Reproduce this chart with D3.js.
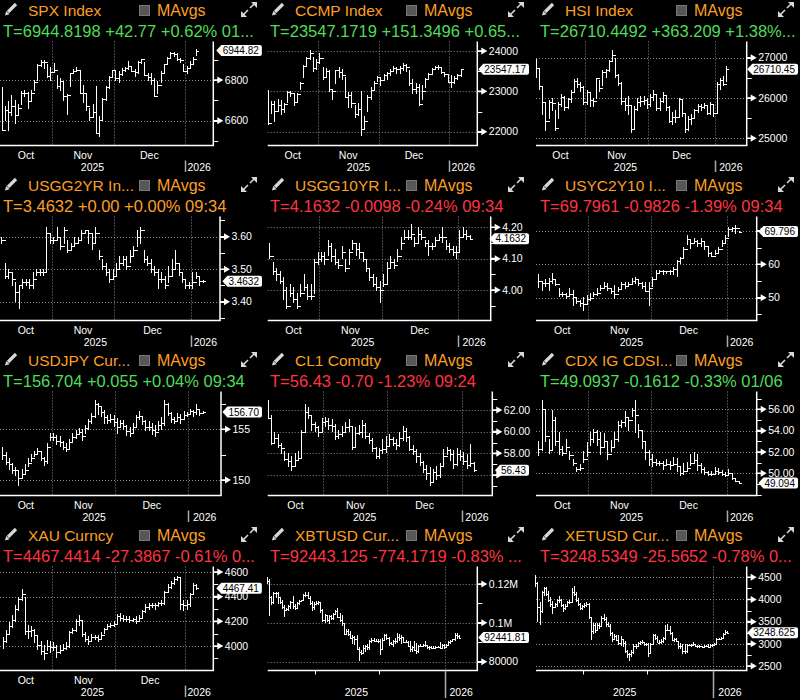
<!DOCTYPE html>
<html>
<head>
<meta charset="utf-8">
<script src="https://cdn.jsdelivr.net/npm/d3@7"></script>
<style>
  body { margin: 0; background: #000; }
  svg text { font-family: "Liberation Sans", Arial, sans-serif; }
</style>
</head>
<body>
<svg id="chart" width="800" height="700"></svg>
<script>
// ---------- data (daily bars, Oct .. Jan) ----------
var spxClose = [6552,6654,6644,6671,6629,6664,6735,6735,6699,6738,6791,6875,6890,6890,6822,6840,
  6851,6771,6796,6720,6728,6832,6846,6850,6737,6734,6672,6617,6642,6538,6603,6705,6766,6813,6849,
  6812,6829,6850,6857,6870,6846,6840,6887,6901,6827,6816,6800,6721,6775,6834,6878,6909,6932,6930,6905,6896,6845,
  6858,6880,6902,6944.82];
var spxHigh = [6764,6670,6697,6724,6700,6682,6745,6753,6740,6750,6800,6880,6900,6897,6880,6865,
  6885,6825,6810,6790,6730,6835,6855,6865,6845,6775,6735,6660,6680,6771,6625,6712,6770,6820,6851,
  6850,6845,6860,6866,6895,6868,6855,6895,6905,6890,6835,6835,6810,6795,6845,6880,6912,6936,6940,6932,6910,6880,
  6870,6895,6915,6950];
var spxLow = [6550,6600,6552,6625,6585,6625,6680,6720,6660,6700,6750,6800,6865,6855,6810,6800,
  6840,6760,6750,6700,6630,6770,6830,6840,6735,6690,6650,6600,6615,6535,6520,6600,6700,6760,6810,
  6800,6790,6820,6840,6850,6840,6815,6830,6880,6820,6800,6780,6720,6735,6790,6830,6875,6910,6915,6895,6885,6840,
  6830,6855,6880,6920];

var ccmpClose = [22204,22694,22521,22670,22562,22680,22991,22954,22740,22941,23205,23637,23827,23958,23581,23725,
  23834,23349,23500,23054,23004,23527,23468,23406,22871,22900,22708,22432,22564,22078,22273,22872,23025,23214,23366,
  23276,23413,23454,23505,23578,23545,23576,23654,23593,23195,23057,23111,22693,23006,23307,23428,23561,23613,23593,23474,23419,23242,
  23236,23330,23396,23547.17];
var ccmpHigh = [23040,22750,22750,22820,22780,22720,23010,23020,22960,22970,23240,23650,23850,24019,23850,23790,
  23960,23600,23580,23520,23050,23540,23600,23550,23360,22980,22980,22650,22700,23000,22400,22900,23100,23250,23380,
  23340,23440,23470,23550,23640,23600,23620,23700,23680,23540,23300,23200,23180,23150,23320,23460,23580,23630,23650,23600,23490,23430,
  23400,23380,23420,23560];
var ccmpLow = [22170,22450,22250,22500,22420,22480,22720,22880,22650,22760,23050,23350,23650,23800,23500,23550,
  23700,23300,23350,23000,22800,23200,23350,23300,22850,22600,22600,22350,22400,21900,22050,22500,22800,23050,23250,
  23150,23280,23300,23400,23500,23450,23450,23520,23480,23150,22950,22950,22650,22800,23100,23300,23450,23550,23550,23430,23380,23220,
  23100,23200,23300,23380];

var hsiClose = [26752,26290,25889,25441,25910,25888,25247,25858,26027,25782,25968,26160,26434,26346,26282,25907,
  26158,25952,25935,26485,26241,26649,26696,26922,27073,26572,26384,25930,25830,25835,25220,25716,25894,25928,25945,25858,
  26033,26095,25760,25935,26085,25765,25434,25540,25530,25976,25628,25235,25468,25498,25690,25801,25774,25818,25635,25854,25631,
  26338,26458,26347,26710.45];
var hsiHigh = [26980,26750,26300,25900,25950,26000,25700,25900,26100,26050,26000,26200,26480,26500,26400,26300,
  26200,26150,26000,26500,26450,26700,26720,26950,27200,27000,26600,26400,26000,26050,25800,25800,26000,26050,26050,26000,
  26100,26200,26100,26000,26150,26050,25800,25650,25700,26000,25950,25600,25550,25600,25720,25850,25850,25880,25800,25900,25850,
  26400,26500,26550,26800];
var hsiLow = [26500,26200,25600,25200,25500,25700,25200,25500,25800,25700,25750,25900,26150,26250,26150,25850,
  25850,25800,25800,26000,26150,26300,26500,26650,26900,26500,26300,25850,25700,25600,25150,25250,25700,25800,25850,25750,
  25800,25950,25700,25700,25900,25700,25400,25350,25400,25550,25550,25150,25200,25350,25500,25650,25700,25750,25600,25600,25550,
  25650,26200,26300,26400];

var us2Close = [3.59,3.48,3.49,3.47,3.43,3.45,3.46,3.46,3.45,3.47,3.49,3.49,3.49,3.61,3.59,
  3.59,3.60,3.57,3.62,3.56,3.57,3.58,3.59,3.61,3.62,3.61,3.58,3.61,3.54,3.51,3.49,3.47,3.48,
  3.50,3.52,3.53,3.51,3.54,3.56,3.60,3.62,3.53,3.52,3.50,3.49,3.47,3.47,3.45,3.48,3.50,3.52,3.49,3.47,3.45,3.45,
  3.46,3.48,3.463,3.4632];
var us2High = [3.60,3.52,3.50,3.49,3.46,3.45,3.47,3.47,3.47,3.49,3.50,3.50,3.50,3.63,3.61,
  3.60,3.63,3.60,3.63,3.59,3.58,3.60,3.60,3.62,3.62,3.62,3.61,3.63,3.56,3.53,3.52,3.50,3.50,
  3.52,3.54,3.54,3.54,3.56,3.57,3.62,3.63,3.56,3.54,3.53,3.51,3.50,3.49,3.48,3.51,3.53,3.56,3.52,3.49,3.47,3.46,
  3.49,3.49,3.48,3.466];
var us2Low = [3.58,3.47,3.47,3.45,3.40,3.38,3.44,3.45,3.44,3.44,3.48,3.48,3.48,3.49,3.58,
  3.58,3.59,3.56,3.58,3.55,3.56,3.57,3.58,3.59,3.61,3.58,3.56,3.58,3.53,3.50,3.48,3.46,3.47,
  3.48,3.50,3.51,3.50,3.52,3.54,3.57,3.58,3.52,3.51,3.49,3.48,3.44,3.46,3.44,3.46,3.48,3.50,3.48,3.46,3.44,3.44,
  3.44,3.47,3.45,3.46];

var us10Close = [4.11,4.06,4.05,4.03,4.00,3.95,3.99,3.97,3.95,3.99,4.01,3.98,3.98,4.09,4.10,
  4.11,4.10,4.14,4.11,4.09,4.08,4.12,4.07,4.12,4.15,4.13,4.12,4.10,4.07,4.04,4.02,4.01,4.00,
  4.02,4.07,4.09,4.08,4.11,4.15,4.17,4.17,4.18,4.15,4.18,4.17,4.15,4.14,4.14,4.16,4.17,4.17,4.14,4.13,4.12,4.12,
  4.17,4.18,4.173,4.1632];
var us10High = [4.15,4.09,4.07,4.06,4.04,4.01,4.02,4.01,3.99,4.02,4.05,4.02,4.02,4.10,4.12,
  4.12,4.12,4.16,4.15,4.13,4.10,4.14,4.10,4.13,4.16,4.15,4.15,4.12,4.10,4.07,4.05,4.04,4.03,
  4.05,4.09,4.11,4.10,4.13,4.17,4.19,4.19,4.21,4.17,4.20,4.19,4.16,4.16,4.15,4.17,4.18,4.20,4.16,4.15,4.14,4.14,
  4.19,4.20,4.19,4.175];
var us10Low = [4.10,4.05,4.03,4.02,3.97,3.94,3.98,3.96,3.94,3.98,4.00,3.97,3.97,3.99,4.08,
  4.09,4.08,4.11,4.09,4.08,4.07,4.10,4.06,4.08,4.13,4.11,4.10,4.09,4.06,4.03,4.01,4.00,3.96,
  4.01,4.02,4.07,4.07,4.09,4.13,4.16,4.16,4.16,4.14,4.15,4.16,4.14,4.11,4.13,4.14,4.16,4.15,4.13,4.12,4.11,4.10,
  4.12,4.17,4.16,4.16];

var curveClose = [55,54.5,54.5,55,55.7,54,51,51,50.5,51,50.3,49,48.5,48,49.5,
  50,51,51.5,53,53.5,53,52,51,52.5,54,53.5,54,55,55.5,54.5,53.5,52,53,
  55.5,57.5,58,58,58,58,58.5,61,62,64.5,67.5,66.5,67,66.5,67,65.5,63.5,62.5,63.5,64.5,66.5,68,
  70.5,71,70.78,69.796];
var curveHigh = [57,55,55.5,56,57.3,55.5,52.8,51.8,51.3,52.8,52.3,50,49.3,50.3,50.8,
  51.3,51.8,52.8,53.8,54.8,54.3,52.8,53.8,53.3,54.8,54.8,54.8,55.8,56.3,55.3,54.8,54.8,54.8,
  56.3,58.3,58.3,58.3,57.8,58.3,59.3,61.3,62.3,65.3,68.8,67.3,67.8,67.3,67.8,66.8,65.3,63.8,64.3,65.3,67.3,68.8,
  71.3,71.3,71.8,70];
var curveLow = [53,52.3,53.3,52.3,54.3,53.8,50.3,50.3,49.8,50.8,47.8,48.3,47.3,46.3,48.3,
  49.3,50.3,50.8,52.3,52.8,52.3,51.3,49.8,51.8,52.8,52.8,53.3,54.3,54.3,53.8,52.8,51.8,47.8,
  53.3,55.8,57.3,56.8,57.3,56.8,56.8,56.3,60.3,61.8,65.8,64.8,66.3,65.3,65.3,64.3,62.3,62.3,62.8,63.3,65.3,66.3,
  68.3,69.8,69.3,69.6];

var jpyClose = [152.5,151.8,151.6,151.0,151.0,150.2,150.6,151.0,151.7,152.2,152.6,152.9,152.2,151.9,153.3,154.2,
  154.2,153.8,153.7,153.3,153.1,153.7,154.2,154.5,154.7,154.3,155.1,155.8,156.3,157.5,157.3,156.7,156.2,155.9,156.0,155.7,
  155.2,155.6,155.3,154.8,154.6,155.2,156.2,156.3,155.8,155.2,155.2,154.9,154.7,155.4,155.6,157.5,156.6,156.0,155.8,156.2,156.0,156.4,156.5,
  156.8,156.7,157.0,156.65,156.704];
var jpyHigh = [153.3,152.8,152.2,151.7,151.3,150.9,151.1,151.6,152.2,152.6,152.9,153.2,152.8,152.3,153.6,154.6,
  154.6,154.4,154.3,153.8,153.6,154.0,154.6,154.9,155.1,155.0,155.4,156.0,156.6,157.9,157.6,157.3,156.9,156.4,156.5,156.4,
  156.1,155.9,155.9,155.4,155.2,155.6,156.4,156.8,156.3,155.9,155.8,155.6,155.4,155.8,156.2,157.9,157.6,156.7,156.2,156.6,156.5,156.8,156.7,
  157.0,156.9,157.5,157.0,156.8];
var jpyLow = [152.0,151.5,151.0,150.6,150.4,149.5,150.2,150.6,151.3,151.8,152.3,152.5,151.9,151.4,151.6,153.9,
  153.9,153.5,153.3,153.0,152.8,153.1,153.7,154.1,154.5,153.9,154.6,155.0,155.6,156.2,156.5,156.3,155.6,155.6,155.7,155.3,
  154.6,155.2,155.0,154.4,154.3,154.6,155.2,156.0,155.5,154.9,154.9,154.5,154.3,154.9,155.0,155.4,156.4,155.7,155.6,155.9,155.6,156.1,156.3,
  156.5,156.3,156.5,156.4,156.6];

var cl1Close = [61.3,59.0,59.4,58.8,58.5,57.5,57.3,56.8,57.4,57.6,60.0,61.8,61.5,60.7,60.4,60.0,60.9,
  61.0,60.6,60.5,59.6,59.8,60.0,60.4,60.5,58.6,59.9,60.0,60.6,59.6,59.2,58.5,57.8,58.3,58.4,58.7,
  59.3,59.0,58.8,59.4,60.1,59.5,58.4,58.2,57.8,57.2,56.6,56.2,55.4,56.3,56.0,56.8,57.8,58.3,57.9,57.0,57.9,57.8,
  57.3,56.9,57.13,56.43];
var cl1High = [62.9,61.5,60.0,59.8,59.0,58.2,58.0,57.8,58.0,58.2,60.2,62.6,62.3,61.5,60.9,60.5,61.3,
  61.4,61.3,61.2,60.7,60.2,60.5,60.9,61.2,60.5,60.4,60.6,61.1,60.8,59.9,59.4,58.6,58.5,59.3,59.6,
  59.8,59.5,59.3,60.0,60.5,60.3,59.6,58.8,58.4,58.0,57.3,56.9,56.7,56.6,56.8,57.1,58.4,58.6,58.4,58.3,58.5,58.3,
  58.1,57.9,58.9,57.2];
var cl1Low = [61.2,58.8,58.9,58.5,58.0,57.3,56.8,56.4,56.9,57.3,57.6,60.0,61.2,60.1,60.0,59.6,60.0,
  60.5,60.2,60.0,59.3,59.4,59.6,59.9,60.0,58.4,58.6,59.7,59.5,59.4,58.9,58.2,57.5,57.5,58.0,58.1,
  58.6,58.7,58.4,58.6,59.2,59.1,58.3,57.9,57.2,56.9,56.2,55.6,55.0,55.4,55.6,55.8,56.8,57.9,57.3,56.6,56.9,57.3,
  57.0,56.6,56.8,56.3];

var cdxClose = [52.3,56.0,53.5,52.2,55.0,53.0,52.3,51.9,52.5,51.7,51.0,50.4,50.5,51.3,52.0,
  53.2,53.9,53.2,52.5,53.0,51.8,52.5,53.2,54.5,54.8,55.3,55.0,55.9,55.5,54.1,53.0,52.0,51.3,
  51.1,51.0,51.0,50.8,50.9,50.8,50.9,50.7,50.0,50.2,50.5,51.0,51.2,50.8,50.4,50.1,49.9,49.9,50.2,50.1,49.9,49.8,
  50.0,49.6,49.25,49.094];
var cdxHigh = [53.0,56.9,56.0,53.2,55.9,55.3,53.9,52.6,53.2,52.1,51.3,50.6,50.9,52.1,52.9,
  53.9,54.2,54.1,53.9,53.8,52.9,53.1,53.9,54.9,55.0,55.8,55.3,56.1,56.9,54.6,54.1,52.9,52.2,
  51.8,51.3,51.2,51.2,51.3,51.2,51.5,51.4,50.6,51.0,51.1,51.8,52.0,51.8,51.0,50.6,50.2,50.2,50.6,50.5,50.3,50.1,
  50.4,50.0,49.6,49.3];
var cdxLow = [51.7,52.1,53.0,51.9,52.1,52.6,51.8,51.7,52.0,51.3,50.7,50.2,50.3,51.0,51.6,
  52.6,52.9,52.6,51.8,52.5,51.3,52.0,52.5,53.0,54.3,54.4,54.0,55.3,53.8,53.4,52.3,51.3,50.7,
  50.6,50.7,50.7,50.4,50.7,50.4,50.7,50.2,49.8,49.9,50.2,50.7,50.9,50.3,50.1,49.9,49.8,49.8,49.9,49.9,49.8,49.7,
  49.8,49.4,49.2,49.0];

var xauClose = [4040,4100,4160,4210,4300,4380,4420,4120,4120,4130,4090,4010,3960,3940,4000,3990,
  3990,3950,3970,3985,4000,4110,4130,4200,4210,4100,4060,4040,4070,4070,4060,4090,4140,4160,4170,4180,
  4240,4230,4220,4220,4210,4215,4200,4230,4280,4320,4330,4335,4330,4345,4350,4440,4480,4510,4540,4560,4340,4330,
  4340,4420,4494.83,4467.41];
var xauHigh = [4070,4130,4195,4250,4330,4400,4460,4400,4170,4160,4140,4090,4040,4010,4050,4040,
  4030,4010,4010,4020,4030,4120,4150,4220,4250,4210,4110,4080,4100,4090,4090,4110,4150,4175,4190,4200,
  4260,4270,4250,4240,4240,4230,4240,4250,4290,4340,4350,4350,4350,4360,4370,4450,4500,4530,4560,4570,4560,4370,
  4370,4430,4510,4500];
var xauLow = [3980,4030,4090,4150,4200,4290,4370,4090,4060,4080,4030,3970,3930,3890,3960,3950,
  3960,3910,3940,3960,3970,3990,4100,4120,4170,4080,4040,4010,4040,4050,4040,4060,4100,4140,4150,4160,
  4180,4210,4200,4200,4190,4200,4180,4195,4220,4270,4300,4310,4300,4320,4330,4340,4430,4470,4500,4530,4300,4290,
  4300,4320,4420,4460];

var xbtClose = [121700,113200,110700,115200,115300,113100,110800,108200,106500,107200,108700,110600,108500,107600,110100,111000,111600,114500,114100,112900,110100,108300,109600,
  110100,110600,106500,101500,103900,101300,103400,102300,104700,106000,103000,101600,99700,94400,95600,94200,92200,92900,91500,86600,85100,84700,86800,88300,87400,90500,91300,90900,90800,90400,
  86300,91300,93500,92100,89400,89300,90400,90600,92700,92000,92500,90300,90300,88200,86400,87800,86200,85500,88100,88300,88600,88500,87500,87600,87300,87300,87800,87800,87200,88400,87500,
  88700,89900,90600,91500,93900,93200,92441.81];
var xbtHigh = [123800,122500,113800,115700,116000,115900,113500,111600,109300,107700,109300,111500,114000,109900,110700,112000,111900,115000,116100,116000,113600,111500,110600,
  111200,111200,110900,107300,104600,104200,103900,104100,105000,106600,107400,105300,104000,99800,96800,96600,96000,93800,93200,93800,87500,85800,88600,88800,89200,91000,92000,92000,91500,91500,
  91800,92300,94200,94100,92500,90200,91200,92200,94600,94300,93500,92800,91000,90700,90400,88200,90400,89500,88800,89000,89100,90600,88700,88000,88000,87900,88000,88200,90000,89200,89000,
  88900,90900,91000,91700,94800,94600,93600];
var xbtLow = [120500,104000,109500,110000,113000,110000,110200,107500,103500,106300,106600,107500,107500,106800,107500,109700,110800,111400,113800,112400,109700,106300,107000,
  109400,109600,105300,100800,100300,100500,99600,101500,101500,104300,102500,100800,98500,94000,94100,93600,91800,89300,88600,86100,80600,83600,84500,85500,86300,86400,90100,90300,90200,90000,
  83800,86200,91000,91200,88100,88900,87700,89500,89900,91000,89400,89700,89800,87600,85100,85300,85600,84400,84500,87600,87900,87800,86600,86400,86600,86800,86900,87200,86700,86900,87000,
  87300,88200,89600,90400,91000,91800,91900];

var xetClose = [4370,3840,3750,4160,4250,4130,3990,3890,3830,3890,3990,3980,3880,3810,3860,3935,3950,4160,4120,3980,3900,3810,3850,
  3880,3900,3600,3290,3420,3310,3430,3400,3580,3560,3440,3410,3240,3120,3180,3090,3010,3100,3020,2840,2770,2760,2810,2960,2960,3020,3030,3030,2990,2990,
  2800,2990,3190,3140,3020,3040,3060,3130,3320,3320,3250,3080,3110,3060,2960,2950,2830,2830,2980,2980,2970,3000,2960,2950,2940,2930,2950,2950,2935,2970,2970,
  3000,3120,3110,3140,3230,3274,3248.535];
var xetHigh = [4560,4390,3950,4190,4290,4290,4180,4060,3960,3920,4020,4080,4010,3900,3900,3960,3980,4260,4300,4160,4030,3930,3880,
  3920,3950,3920,3610,3480,3460,3470,3480,3630,3680,3600,3500,3450,3270,3230,3210,3190,3180,3110,3060,2850,2800,2850,2990,3000,3040,3060,3080,3030,3010,
  3010,3010,3220,3230,3170,3080,3100,3160,3430,3450,3400,3260,3130,3130,3060,3010,3000,2990,3000,3000,3000,3040,3000,2980,2970,2960,2970,2980,2990,2990,3000,
  3020,3130,3140,3150,3250,3310,3280];
var xetLow = [4300,3500,3440,3700,4100,4080,3950,3850,3680,3820,3850,3940,3850,3720,3780,3840,3900,3940,4100,3950,3860,3770,3780,
  3810,3850,3560,3100,3230,3260,3290,3350,3390,3520,3400,3380,3180,3060,3090,3080,2990,2960,2950,2810,2700,2620,2720,2790,2890,2940,2990,3000,2970,2970,
  2720,2780,2980,3100,3020,3000,3000,3040,3100,3310,3220,3070,3060,3050,2900,2900,2790,2780,2810,2960,2950,2960,2940,2920,2920,2910,2920,2940,2920,2920,2950,
  2960,2990,3090,3100,3130,3210,3235];

// bars per month: Oct, Nov, Dec, Jan
var monthsUS = [16, 19, 22, 4];
var monthsHK = [16, 20, 21, 4];
var monthsBond = [15, 18, 22, 4];
var monthsFX = [16, 20, 23, 5];
var monthsCL = [17, 19, 22, 4];
var monthsGold = [16, 20, 22, 4];
var monthsCrypto = [23, 30, 31, 7];

var monthNames = ["Oct", "Nov", "Dec"];
var yearNames = ["2025", "2026"];

// right axis labels
var spxTicks = [6600, 6800], spxTickText = ["6600", "6800"];
var ccmpTicks = [22000, 23000, 24000], ccmpTickText = ["22000", "23000", "24000"];
var hsiTicks = [25000, 26000, 27000], hsiTickText = ["25000", "26000", "27000"];
var us2Ticks = [3.4, 3.5, 3.6], us2TickText = ["3.40", "3.50", "3.60"];
var us10Ticks = [4.0, 4.1, 4.2], us10TickText = ["4.00", "4.10", "4.20"];
var curveTicks = [50, 60, 70], curveTickText = ["50", "60", "70"];
var jpyTicks = [150, 155], jpyTickText = ["150", "155"];
var cl1Ticks = [56, 58, 60, 62], cl1TickText = ["56.00", "58.00", "60.00", "62.00"];
var cdxTicks = [50, 52, 54, 56], cdxTickText = ["50.00", "52.00", "54.00", "56.00"];
var xauTicks = [4000, 4200, 4400, 4600], xauTickText = ["4000", "4200", "4400", "4600"];
var xbtTicks = [80000, 100000, 120000], xbtTickText = ["80000", "0.1M", "0.12M"];
var xetTicks = [2500, 3000, 3500, 4000, 4500], xetTickText = ["2500", "3000", "3500", "4000", "4500"];

var ORANGE = "#fb9f24";
var GREEN = "#4fdc58";
var RED = "#ff3440";
var GRID = "#8a8a8a";
var ROW_H = 175;
var colX = [0, 267, 537];
var boxMaxR = [262, 529, 798];

var panels = [
  {row: 0, col: 0, title: "SPX Index", quote: "T=6944.8198 +42.77 +0.62% 01...", qc: GREEN,
   close: spxClose, high: spxHigh, low: spxLow, months: monthsUS, plotL: 0, axisX: 213.3, xNov: 52, xJan: 185,
   yA: [6800, 80, 6600, 120.7], minor: 100, ticks: spxTicks, tickText: spxTickText, last: "6944.82"},
  {row: 0, col: 1, title: "CCMP Index", quote: "T=23547.1719 +151.3496 +0.65...", qc: GREEN,
   close: ccmpClose, high: ccmpHigh, low: ccmpLow, months: monthsUS, plotL: 267.7, axisX: 477.3, xNov: 317.7, xJan: 449.3,
   yA: [24000, 51, 22000, 131.7], minor: 500, ticks: ccmpTicks, tickText: ccmpTickText, last: "23547.17"},
  {row: 0, col: 2, title: "HSI Index", quote: "T=26710.4492 +363.209 +1.38%...", qc: GREEN,
   close: hsiClose, high: hsiHigh, low: hsiLow, months: monthsHK, plotL: 536, axisX: 746.7, xNov: 585, xJan: 715,
   yA: [27000, 57.7, 25000, 138.3], minor: 500, ticks: hsiTicks, tickText: hsiTickText, last: "26710.45"},
  {row: 1, col: 0, title: "USGG2YR In...", quote: "T=3.4632 +0.00 +0.00% 09:34", qc: ORANGE,
   close: us2Close, high: us2High, low: us2Low, months: monthsBond, plotL: 0, axisX: 220, xNov: 51.7, xJan: 190.7,
   yA: [3.6, 61.7, 3.4, 126.7], minor: 0.05, ticks: us2Ticks, tickText: us2TickText, last: "3.4632"},
  {row: 1, col: 1, title: "USGG10YR I...", quote: "T=4.1632 -0.0098 -0.24% 09:34", qc: RED,
   close: us10Close, high: us10High, low: us10Low, months: monthsBond, plotL: 267.7, axisX: 490.7, xNov: 319.3, xJan: 457.7,
   yA: [4.2, 52.3, 4.0, 115], minor: 0.05, ticks: us10Ticks, tickText: us10TickText, last: "4.1632"},
  {row: 1, col: 2, title: "USYC2Y10 I...", quote: "T=69.7961 -0.9826 -1.39% 09:34", qc: RED,
   close: curveClose, high: curveHigh, low: curveLow, months: monthsBond, plotL: 536, axisX: 756.7, xNov: 588.3, xJan: 726.7,
   yA: [60, 89.3, 50, 122.7], minor: 5, ticks: curveTicks, tickText: curveTickText, last: "69.796"},
  {row: 2, col: 0, title: "USDJPY Cur...", quote: "T=156.704 +0.055 +0.04% 09:34", qc: GREEN,
   close: jpyClose, high: jpyHigh, low: jpyLow, months: monthsFX, plotL: 0, axisX: 221, xNov: 51.7, xJan: 188.3,
   yA: [155, 79.3, 150, 130], minor: 2.5, ticks: jpyTicks, tickText: jpyTickText, last: "156.70"},
  {row: 2, col: 1, title: "CL1 Comdty", quote: "T=56.43 -0.70 -1.23% 09:24", qc: RED,
   close: cl1Close, high: cl1High, low: cl1Low, months: monthsCL, plotL: 267.7, axisX: 492.3, xNov: 323.3, xJan: 461.7,
   yA: [62, 60, 56, 125], minor: 1, ticks: cl1Ticks, tickText: cl1TickText, last: "56.43"},
  {row: 2, col: 2, title: "CDX IG CDSI...", quote: "T=49.0937 -0.1612 -0.33% 01/06", qc: GREEN,
   close: cdxClose, high: cdxHigh, low: cdxLow, months: monthsBond, plotL: 536, axisX: 756.7, xNov: 588.3, xJan: 726.7,
   yA: [56, 59.3, 50, 123.3], minor: 1, ticks: cdxTicks, tickText: cdxTickText, last: "49.094"},
  {row: 3, col: 0, title: "XAU Curncy", quote: "T=4467.4414 -27.3867 -0.61% 0...", qc: RED,
   close: xauClose, high: xauHigh, low: xauLow, months: monthsGold, plotL: 0, axisX: 213.3, xNov: 51.7, xJan: 185,
   yA: [4600, 47, 4000, 121], minor: 100, ticks: xauTicks, tickText: xauTickText, last: "4467.41"},
  {row: 3, col: 1, title: "XBTUSD Cur...", quote: "T=92443.125 -774.1719 -0.83% ...", qc: RED,
   close: xbtClose, high: xbtHigh, low: xbtLow, months: monthsCrypto, plotL: 267.7, axisX: 477.3, xNov: 315, xJan: 445,
   yA: [120000, 59, 80000, 136.7], minor: 10000, ticks: xbtTicks, tickText: xbtTickText, last: "92441.81", daily: true},
  {row: 3, col: 2, title: "XETUSD Cur...", quote: "T=3248.5349 -25.5652 -0.78% 0...", qc: RED,
   close: xetClose, high: xetHigh, low: xetLow, months: monthsCrypto, plotL: 536, axisX: 746.7, xNov: 583.3, xJan: 713.3,
   yA: [4500, 52.3, 2500, 141], minor: 250, ticks: xetTicks, tickText: xetTickText, last: "3248.625", daily: true}
];

var svg = d3.select("#chart");
svg.append("rect").attr("width", 800).attr("height", 700).attr("fill", "#000");

// draw every panel's plot first, then all axis labels and value boxes on top
var layers = { plot: svg.append("g"), labels: svg.append("g") };
panels.forEach(drawPanel);

function drawHeader(g, ox, top, p) {
  // pencil
  g.append("line").attr("x1", ox + 8).attr("y1", top + 12).attr("x2", ox + 16).attr("y2", top + 4)
    .attr("stroke", "#d8d8d8").attr("stroke-width", 3.2);
  g.append("path").attr("d", "M" + (ox + 5) + "," + (top + 15.5) + "l1.2,-4.6l3.4,3.4z").attr("fill", "#d8d8d8");

  g.append("text").attr("x", ox + 28).attr("y", top + 16).attr("fill", ORANGE)
    .attr("font-size", 15.5).text(p.title);

  g.append("rect").attr("x", ox + 139.5).attr("y", top + 5.5).attr("width", 10).attr("height", 10)
    .attr("fill", "#575757").attr("stroke", "#777");
  g.append("text").attr("x", ox + 157).attr("y", top + 16).attr("fill", ORANGE)
    .attr("font-size", 16).text("MAvgs");

  // expand icon
  var ex = ox + 241, ey = top + 2;
  g.append("line").attr("x1", ex + 9).attr("y1", ey + 6).attr("x2", ex + 13.5).attr("y2", ey + 1.5)
    .attr("stroke", "#d8d8d8").attr("stroke-width", 1.6);
  g.append("path").attr("d", "M" + (ex + 16) + "," + ey + "v6l-6,-6z").attr("fill", "#d8d8d8");
  g.append("line").attr("x1", ex + 2.5).attr("y1", ey + 12.5).attr("x2", ex + 7).attr("y2", ey + 8)
    .attr("stroke", "#d8d8d8").attr("stroke-width", 1.6);
  g.append("path").attr("d", "M" + ex + "," + (ey + 15) + "v-6l6,6z").attr("fill", "#d8d8d8");

  g.append("text").attr("x", ox + 3).attr("y", top + 36.5).attr("fill", p.qc)
    .attr("font-size", 16.5).text(p.quote);
}

function drawPanel(p) {
  var top = p.row * ROW_H, ox = colX[p.col];
  var g = layers.plot.append("g");
  var lg = layers.labels.append("g");
  var plotTop = top + 41.5, plotBot = top + 145.5;
  var m = p.months;
  var iNov = m[0] - 0.5, iDec = m[0] + m[1] - 0.5, iJan = m[0] + m[1] + m[2] - 0.5;

  var x = d3.scaleLinear().domain([iNov, iJan]).range([p.xNov, p.xJan]);
  var y = d3.scaleLinear().domain([p.yA[0], p.yA[2]]).range([top + p.yA[1], top + p.yA[3]]);

  drawHeader(g, ox, top, p);

  // horizontal grid at labelled ticks
  g.selectAll(null).data(p.ticks).enter().append("line")
    .attr("x1", p.plotL).attr("x2", p.axisX)
    .attr("y1", function(d) { return Math.round(y(d)) + 0.5; })
    .attr("y2", function(d) { return Math.round(y(d)) + 0.5; })
    .attr("stroke", GRID).attr("stroke-dasharray", "1,2");

  // vertical month lines
  var vlines = p.daily ? [iJan] : [iNov, iDec, iJan];
  g.selectAll(null).data(vlines).enter().append("line")
    .attr("x1", function(d) { return Math.round(x(d)) + 0.5; })
    .attr("x2", function(d) { return Math.round(x(d)) + 0.5; })
    .attr("y1", plotTop).attr("y2", plotBot)
    .attr("stroke", GRID).attr("stroke-dasharray", "1,2");

  // OHLC bars (open = previous close)
  var bars = g.append("g").attr("stroke", "#fff").attr("stroke-width", 1).attr("shape-rendering", "crispEdges");
  var tick = p.daily ? 1 : 1.5;
  p.close.forEach(function(c, i) {
    var xi = Math.round(x(i)) + 0.5;
    var hi = Math.max(p.high[i], c), lo = Math.min(p.low[i], c);
    bars.append("line").attr("x1", xi).attr("x2", xi).attr("y1", y(hi)).attr("y2", y(lo) + 0.5);
    if (i > 0) {
      var yo = Math.round(y(p.close[i - 1])) + 0.5;
      bars.append("line").attr("x1", xi - tick - 0.5).attr("x2", xi).attr("y1", yo).attr("y2", yo);
    }
    var yc = Math.round(y(c)) + 0.5;
    bars.append("line").attr("x1", xi).attr("x2", xi + tick + 0.5).attr("y1", yc).attr("y2", yc);
  });

  // axes
  g.append("line").attr("x1", p.plotL).attr("x2", p.axisX + 0.75).attr("y1", plotBot).attr("y2", plotBot)
    .attr("stroke", "#fff").attr("stroke-width", 1.5);
  g.append("line").attr("x1", p.axisX).attr("x2", p.axisX).attr("y1", plotTop).attr("y2", plotBot)
    .attr("stroke", "#fff").attr("stroke-width", 1.5);

  // minor ticks on right axis
  var dom = y.invert(plotBot), dTop = y.invert(plotTop);
  var minors = d3.range(Math.ceil(dom / p.minor - 1e-6) * p.minor, dTop + 1e-9, p.minor);
  g.selectAll(null).data(minors).enter().append("line")
    .attr("x1", p.axisX).attr("x2", p.axisX + 5)
    .attr("y1", function(d) { return Math.round(y(d)) + 0.5; })
    .attr("y2", function(d) { return Math.round(y(d)) + 0.5; })
    .attr("stroke", "#fff");

  var vy = y(p.close[p.close.length - 1]);

  // labelled ticks with arrow (labels sitting right under the value box are hidden by it)
  var ax = p.axisX;
  lg.selectAll(null).data(p.ticks).enter().append("path")
    .attr("d", function(t) {
      var cy = y(t);
      return "M" + ax + "," + (cy - 0.8) + "H" + (ax + 4) + "V" + (cy - 3.5) + "L" + (ax + 10) + "," + cy +
        "L" + (ax + 4) + "," + (cy + 3.5) + "V" + (cy + 0.8) + "H" + ax + "Z";
    })
    .attr("fill", "#fff");
  var shown = p.ticks.map(function(t, k) { return {v: t, s: p.tickText[k]}; })
    .filter(function(d) { return Math.abs(y(d.v) - vy) >= 6; });
  lg.selectAll(null).data(shown).enter().append("text")
    .attr("x", ax + 11.5).attr("y", function(d) { return y(d.v); }).attr("dy", "0.36em")
    .attr("fill", "#fff").attr("font-size", 10.5).text(function(d) { return d.s; });

  // bottom axis month labels / ticks
  if (!p.daily) {
    var mx = [(p.plotL + x(iNov)) / 2, (x(iNov) + x(iDec)) / 2, (x(iDec) + x(iJan)) / 2];
    g.selectAll(null).data(monthNames).enter().append("text")
      .attr("x", function(d, k) { return mx[k]; }).attr("y", top + 158.5)
      .attr("text-anchor", "middle").attr("fill", "#fff").attr("font-size", 10.5)
      .text(function(d) { return d; });
    g.append("line").attr("x1", Math.round(x(iJan)) + 0.5).attr("x2", Math.round(x(iJan)) + 0.5)
      .attr("y1", top + 160.5).attr("y2", top + 172).attr("stroke", "#aaa").attr("stroke-width", 1.5);
  } else {
    [iNov, iDec].forEach(function(d) {
      g.append("line").attr("x1", Math.round(x(d)) + 0.5).attr("x2", Math.round(x(d)) + 0.5)
        .attr("y1", plotBot).attr("y2", plotBot + 4).attr("stroke", "#fff");
    });
    g.append("line").attr("x1", Math.round(x(iJan)) + 0.5).attr("x2", Math.round(x(iJan)) + 0.5)
      .attr("y1", plotBot).attr("y2", top + 173).attr("stroke", "#aaa").attr("stroke-width", 1.5);
  }
  var yx = [(p.plotL + x(iJan)) / 2, (x(iJan) + p.axisX) / 2];
  g.selectAll(null).data(yearNames).enter().append("text")
    .attr("x", function(d, k) { return yx[k]; }).attr("y", top + 170.5)
    .attr("text-anchor", "middle").attr("fill", "#fff").attr("font-size", 10.5)
    .text(function(d) { return d; });

  // last value box
  var box = lg.append("g");
  var bp = box.append("path");
  var bt = box.append("text").attr("y", vy).attr("dy", "0.36em")
    .attr("fill", "#000").attr("font-size", 10).text(p.last);
  var w = bt.node().getComputedTextLength();
  var tx = Math.min(p.axisX + 9.4, boxMaxR[p.col] - 3 - w);
  bt.attr("x", tx);
  var l = Math.min(p.axisX + 3, tx - 6), r = tx + w + 3;
  bp.attr("d", "M" + l + "," + vy + "L" + (l + 5) + "," + (vy - 5.5) + "H" + (r - 2) +
      "Q" + r + "," + (vy - 5.5) + " " + r + "," + (vy - 3.5) + "V" + (vy + 3.5) +
      "Q" + r + "," + (vy + 5.5) + " " + (r - 2) + "," + (vy + 5.5) + "H" + (l + 5) + "Z")
    .attr("fill", "#fff");
}
</script>
</body>
</html>
